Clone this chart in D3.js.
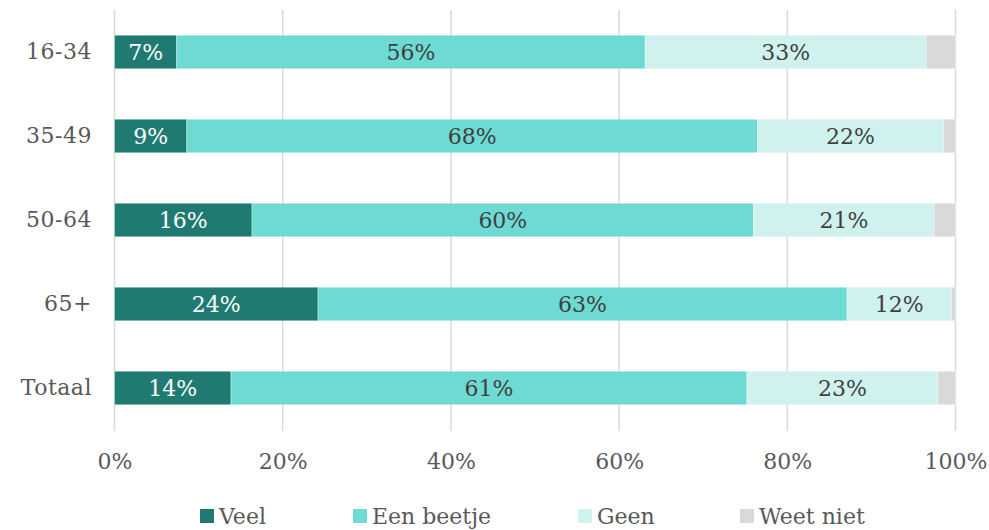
<!DOCTYPE html>
<html>
<head>
<meta charset="utf-8">
<script src="https://cdn.jsdelivr.net/npm/d3@7"></script>
<style>
  html, body { margin: 0; padding: 0; background: #ffffff; }
  svg { display: block; font-family: "DejaVu Serif", "Liberation Serif", serif; }
</style>
</head>
<body>
<svg id="chart" width="989" height="530"></svg>
<script>
const categories = ["16-34", "35-49", "50-64", "65+", "Totaal"];
const seriesNames = ["Veel", "Een beetje", "Geen", "Weet niet"];
const veel      = [7.4, 8.6, 16.35, 24.2, 13.85];
const eenBeetje = [55.7, 67.85, 59.65, 62.9, 61.35];
const geen      = [33.4, 22.1, 21.45, 12.4, 22.7];
const weetNiet  = [3.5, 1.45, 2.55, 0.5, 2.1];
const xTicks = [0, 20, 40, 60, 80, 100];
const colors = ["#1f7b72", "#6ddbd3", "#d0f2ef", "#d9d9d9"];
const labelColors = ["#ffffff", "#404040", "#404040", null];

const seriesValues = [veel, eenBeetje, geen, weetNiet];
const rows = categories.map((c, i) => {
  const o = { cat: c };
  seriesNames.forEach((s, j) => o[s] = seriesValues[j][i]);
  return o;
});
const stacked = d3.stack().keys(seriesNames)(rows);

const svg = d3.select("#chart");
const x = d3.scaleLinear().domain([0, 100]).range([114.5, 955.5]);
const y = d3.scaleBand().domain(categories).range([10, 430]).paddingInner(0.6).paddingOuter(0.3);

// gridlines
svg.append("g").selectAll("line").data(xTicks).join("line")
  .attr("x1", d => x(d)).attr("x2", d => x(d))
  .attr("y1", 10).attr("y2", 431)
  .attr("stroke", "#d9d9d9").attr("stroke-width", 1.5);

// x axis labels
const xAxis = d3.axisBottom(x).tickValues(xTicks).tickFormat(d => d + "%").tickSize(0).tickPadding(0);
const gx = svg.append("g").attr("transform", "translate(0,453)").call(xAxis);
gx.select(".domain").remove();
gx.selectAll("text").attr("font-size", 22).attr("fill", "#595959")
  .attr("font-family", "'DejaVu Serif', serif");

// y axis labels
const yAxis = d3.axisLeft(y).tickSize(0).tickPadding(0);
const gy = svg.append("g").attr("transform", "translate(92,0)").call(yAxis);
gy.select(".domain").remove();
gy.selectAll("text").attr("font-size", 22).attr("fill", "#595959")
  .attr("letter-spacing", 0.5)
  .attr("font-family", "'DejaVu Serif', serif");

// bars
const layers = svg.append("g").selectAll("g").data(stacked).join("g")
  .attr("fill", (d, i) => colors[i]);
layers.selectAll("rect").data(d => d).join("rect")
  .attr("x", d => x(d[0]))
  .attr("y", d => y(d.data.cat))
  .attr("width", d => x(d[1]) - x(d[0]))
  .attr("height", y.bandwidth())
  .attr("stroke", "#ffffff").attr("stroke-width", 0.6).attr("stroke-opacity", 0.6);

// value labels
stacked.forEach((layer, i) => {
  if (!labelColors[i]) return;
  svg.append("g").selectAll("text").data(layer).join("text")
    .attr("x", d => (x(d[0]) + x(d[1])) / 2)
    .attr("y", d => y(d.data.cat) + y.bandwidth() / 2)
    .attr("dy", "0.36em")
    .attr("text-anchor", "middle")
    .attr("font-size", 22)
    .attr("fill", labelColors[i])
    .text(d => Math.round(d[1] - d[0]) + "%");
});

// legend
const legendX = [200, 353, 578, 740];
const lg = svg.append("g").selectAll("g").data(seriesNames).join("g")
  .attr("transform", (d, i) => `translate(${legendX[i]},509)`);
lg.append("rect").attr("width", 14).attr("height", 14).attr("fill", (d, i) => colors[i]);
lg.append("text").attr("x", 19).attr("y", 7).attr("dy", "0.36em")
  .attr("font-size", 22).attr("fill", "#595959").text(d => d);
</script>
</body>
</html>
